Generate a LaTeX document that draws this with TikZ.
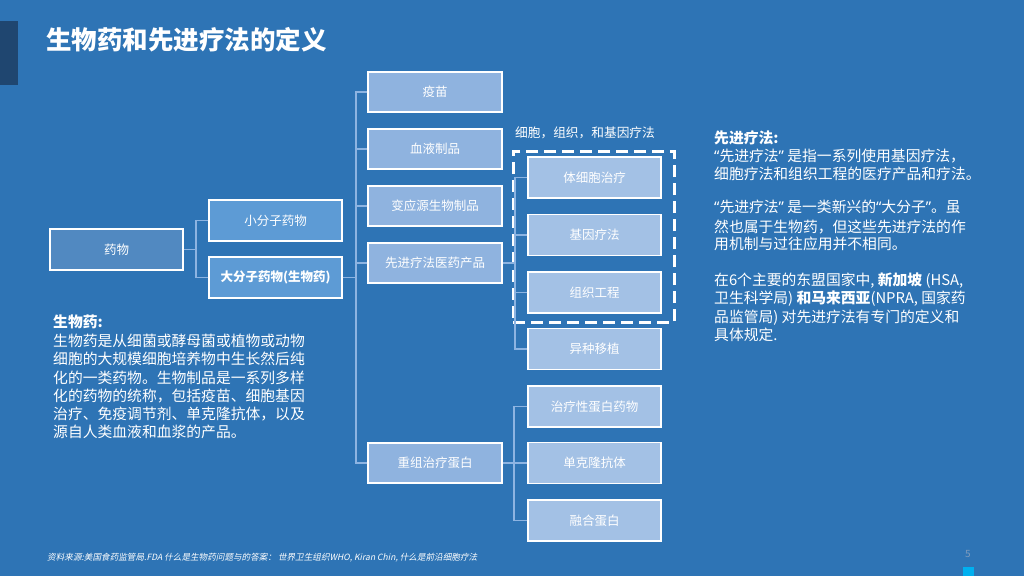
\documentclass[tikz,border=0pt]{standalone}
\usepackage{fontspec}
\setmainfont{Noto Sans CJK SC}
\newfontfamily\footfont[FakeSlant=0.2]{Noto Sans CJK SC}
\newfontfamily\latinq{Noto Sans}
\newcommand{\myLq}{{\latinq “}}
\newcommand{\myRq}{{\latinq ”}}
\definecolor{bgblue}{HTML}{2E74B5}
\definecolor{darkbar}{HTML}{1F4670}
\definecolor{c0}{HTML}{5189C1}
\definecolor{c1}{HTML}{5D9BD5}
\definecolor{c2}{HTML}{8FB3DF}
\definecolor{c3}{HTML}{A3C1E5}
\definecolor{linec}{HTML}{8DB4E2}
\definecolor{cyansq}{HTML}{00B0F0}
\definecolor{pagegray}{HTML}{7F9CBD}
\begin{document}
\begin{tikzpicture}[x=1pt,y=-1pt,
  bx/.style={draw=white, line width=1.3pt, minimum width=133pt, minimum height=41pt,
    inner sep=0pt, text=white, font=\fontsize{12.5}{14}\selectfont},
  conn/.style={draw=linec, line width=1.3pt},
  txt/.style={anchor=base west, inner sep=0pt, text=white, font=\fontsize{14.8}{17}\selectfont},
  dashbox/.style={draw=white, line width=3pt, dash pattern=on 12pt off 6pt, inner sep=0pt}]
\useasboundingbox (0,0) rectangle (1024,576);
\fill[bgblue] (0,0) rectangle (1024,576);
\fill[darkbar] (0,21) rectangle (18,85);
\fill[cyansq] (963,567) rectangle (974,576);

% title
\node[anchor=base west, inner sep=0pt, text=white, font=\fontsize{25.5}{28}\selectfont\bfseries] (title) at (46,49.5) {生物药和先进疗法的定义};

% level 0/1
\node[bx, fill=c0] (drug) at (116.5,249.5) {药物};
\node[bx, fill=c1] (small) at (275.5,220.5) {小分子药物};
\node[bx, fill=c1, font=\fontsize{12.5}{14}\selectfont\bfseries] (large) at (275.5,277.5) {大分子药物(生物药)};

% level 2
\node[bx, fill=c2, minimum width=134pt, minimum height=40pt] (vaccine) at (435,92) {疫苗};
\node[bx, fill=c2, minimum width=134pt, minimum height=40pt] (blood) at (435,149) {血液制品};
\node[bx, fill=c2, minimum width=134pt, minimum height=40pt] (allergen) at (435,206) {变应源生物制品};
\node[bx, fill=c2, minimum width=134pt, minimum height=40pt] (atmp) at (435,263) {先进疗法医药产品};
\node[bx, fill=c2, minimum width=134pt, minimum height=40pt] (recomb) at (435,463) {重组治疗蛋白};

% level 3
\node[bx, fill=c3] (somatic) at (594.5,177.5) {体细胞治疗};
\node[bx, fill=c3] (gene) at (594.5,235) {基因疗法};
\node[bx, fill=c3] (tissue) at (594.5,292.5) {组织工程};
\node[bx, fill=c3] (xeno) at (594.5,349) {异种移植};
\node[bx, fill=c3] (thera) at (594.5,406.5) {治疗性蛋白药物};
\node[bx, fill=c3] (mab) at (594.5,463) {单克隆抗体};
\node[bx, fill=c3] (fusion) at (594.5,520.5) {融合蛋白};

% dashed group
\node[dashbox, minimum width=161pt, minimum height=171pt] (grp) at (593.5,236.5) {};
\node[inner sep=0pt, text=white, font=\fontsize{12.7}{14}\selectfont] (grplabel) at (585,133) {细胞，组织，和基因疗法};

% connectors
\coordinate (j1) at (196,249.5);
\draw[conn] (drug.east) -- (j1);
\draw[conn] (small.west) -| (j1);
\draw[conn] (large.west) -| (j1);

\coordinate (j2) at (356,277.5);
\draw[conn] (large.east) -- (j2);
\draw[conn] (vaccine.west) -| (j2);
\draw[conn] (recomb.west) -| (j2);
\draw[conn] (blood.west) -- (blood.west -| j2);
\draw[conn] (allergen.west) -- (allergen.west -| j2);
\draw[conn] (atmp.west) -- (atmp.west -| j2);

\coordinate (j3) at (515,263);
\draw[conn] (atmp.east) -- (j3);
\draw[conn] (somatic.west) -| (j3);
\draw[conn] (xeno.west) -| (j3);
\draw[conn] (gene.west) -- (gene.west -| j3);
\draw[conn] (tissue.west) -- (tissue.west -| j3);

\coordinate (j4) at (514,463);
\draw[conn] (recomb.east) -- (mab.west);
\draw[conn] (thera.west) -| (j4);
\draw[conn] (fusion.west) -| (j4);

% left text
\node[txt, font=\fontsize{14.8}{17}\selectfont\bfseries] (l0) at (53,327.5) {生物药:};
\node[txt] (l1) at (53,346.5) {生物药是从细菌或酵母菌或植物或动物};
\node[txt] (l2) at (53,364.5) {细胞的大规模细胞培养物中生长然后纯};
\node[txt] (l3) at (53,383) {化的一类药物。生物制品是一系列多样};
\node[txt] (l4) at (53,401) {化的药物的统称，包括疫苗、细胞基因};
\node[txt] (l5) at (53,419.5) {治疗、免疫调节剂、单克隆抗体，以及};
\node[txt] (l6) at (53,437.5) {源自人类血液和血浆的产品。};

% right text
\node[txt, font=\fontsize{14.8}{17}\selectfont\bfseries] (r0) at (714,143) {先进疗法:};
\node[txt] (r1) at (714,161.3) {\myLq 先进疗法\myRq{} 是指一系列使用基因疗法，};
\node[txt] (r2) at (714,179.5) {细胞疗法和组织工程的医疗产品和疗法。};
\node[txt] (r3) at (714,212.5) {\myLq 先进疗法\myRq{} 是一类新兴的\myLq 大分子\myRq 。虽};
\node[txt] (r4) at (714,232.2) {然也属于生物药，但这些先进疗法的作};
\node[txt] (r5) at (714,249.5) {用机制与过往应用并不相同。};
\node[txt] (r6) at (714,285.5) {在6个主要的东盟国家中, \textbf{新加坡} (HSA,};
\node[txt] (r7) at (714,303.5) {卫生科学局) \textbf{和马来西亚}(NPRA, 国家药};
\node[txt] (r8) at (714,322.2) {品监管局) 对先进疗法有专门的定义和};
\node[txt] (r9) at (714,340.5) {具体规定.};

% footer
\node[anchor=base west, inner sep=0pt, text=white, font=\footfont\fontsize{8.6}{9.5}\selectfont] (foot) at (47,560) {资料来源:美国食药监管局.FDA 什么是生物药问题与的答案： 世界卫生组织WHO, Kiran Chin, 什么是前沿细胞疗法};
\node[inner sep=0pt, text=pagegray, font=\fontsize{10}{11}\selectfont] (page) at (968,554) {5};
\end{tikzpicture}
\end{document}
